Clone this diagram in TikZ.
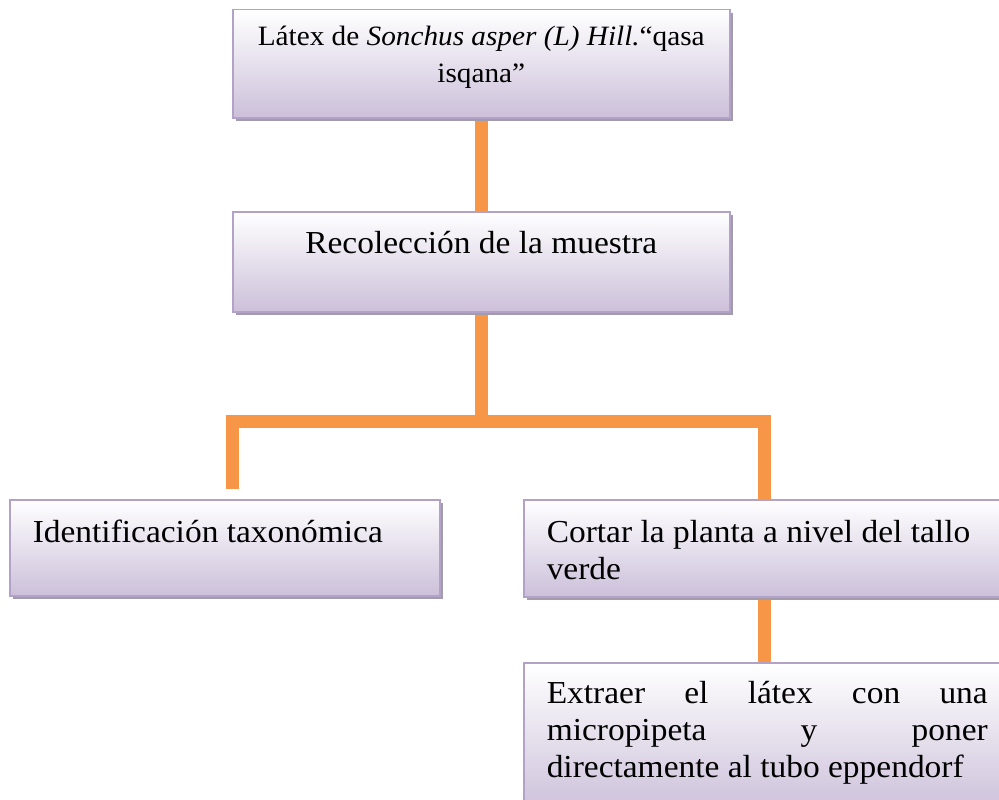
\documentclass[tikz,border=0pt]{standalone}
\usepackage{fontspec}
\setmainfont{Liberation Serif}[FakeStretch=1.045]
\usetikzlibrary{shadows,backgrounds}
\definecolor{boxline}{HTML}{B3A2C7}
\definecolor{boxbottom}{HTML}{CCC0DA}
\definecolor{shadowgray}{HTML}{A29BA9}
\definecolor{orangeline}{HTML}{F79646}
\tikzset{
  flowbox/.style={draw=boxline, line width=1.5pt, inner sep=0pt, anchor=north west,
    top color=white, bottom color=boxbottom,
    drop shadow={shadow xshift=3pt, shadow yshift=-3.5pt, fill=shadowgray, opacity=1}},
  conn/.style={draw=orangeline, line width=13pt, line cap=butt, line join=miter}
}
\newcommand{\bigtext}{\fontsize{32}{37}\selectfont}
\newcommand{\toptext}{\fontsize{28}{37}\selectfont}
\begin{document}
\begin{tikzpicture}[x=1pt,y=-1pt]
\useasboundingbox (0,0) rectangle (999,800);
\clip (0,0) rectangle (999,800);
\node[flowbox] (n1) at (232,9) {\parbox[c][108pt][t]{497pt}{\toptext\centering\rule{0pt}{36pt}\mbox{Látex de \textit{Sonchus asper (L) Hill.}“qasa}\\ isqana”}};
\node[flowbox] (n2) at (232,211) {\parbox[c][100pt][t]{497pt}{\bigtext\centering\rule{0pt}{42pt}Recolección de la muestra}};
\node[flowbox] (n3) at (9,499) {\parbox[c][96pt][t]{430pt}{\bigtext\raggedright\leftskip=23pt\rule{0pt}{43pt}Identificación taxonómica}};
\node[flowbox] (n4) at (523,499) {\parbox[c][97pt][t]{490pt}{\bigtext\raggedright\leftskip=23pt\rule{0pt}{43pt}Cortar la planta a nivel del tallo\\ verde}};
\node[flowbox] (n5) at (523,662) {\parbox[c][150pt][t]{490pt}{\bigtext\raggedright\leftskip=23pt\rule{0pt}{41pt}\makebox[441pt][s]{Extraer el látex con una}\\ \makebox[441pt][s]{micropipeta y poner}\\ directamente al tubo eppendorf}};
\coordinate (jl) at (232,421);
\coordinate (jr) at (764,421);
\coordinate (le) at (232,489);
\begin{scope}[on background layer]
\draw[conn] (n1.south) -- (n2.north);
\draw[conn] (n2.south) -- (n2.south |- jl);
\draw[conn] (le) -- (jl) -- (jr) -- (jr |- n4.north);
\draw[conn] (jr |- n4.south) -- (jr |- n5.north);
\end{scope}
\end{tikzpicture}
\end{document}
